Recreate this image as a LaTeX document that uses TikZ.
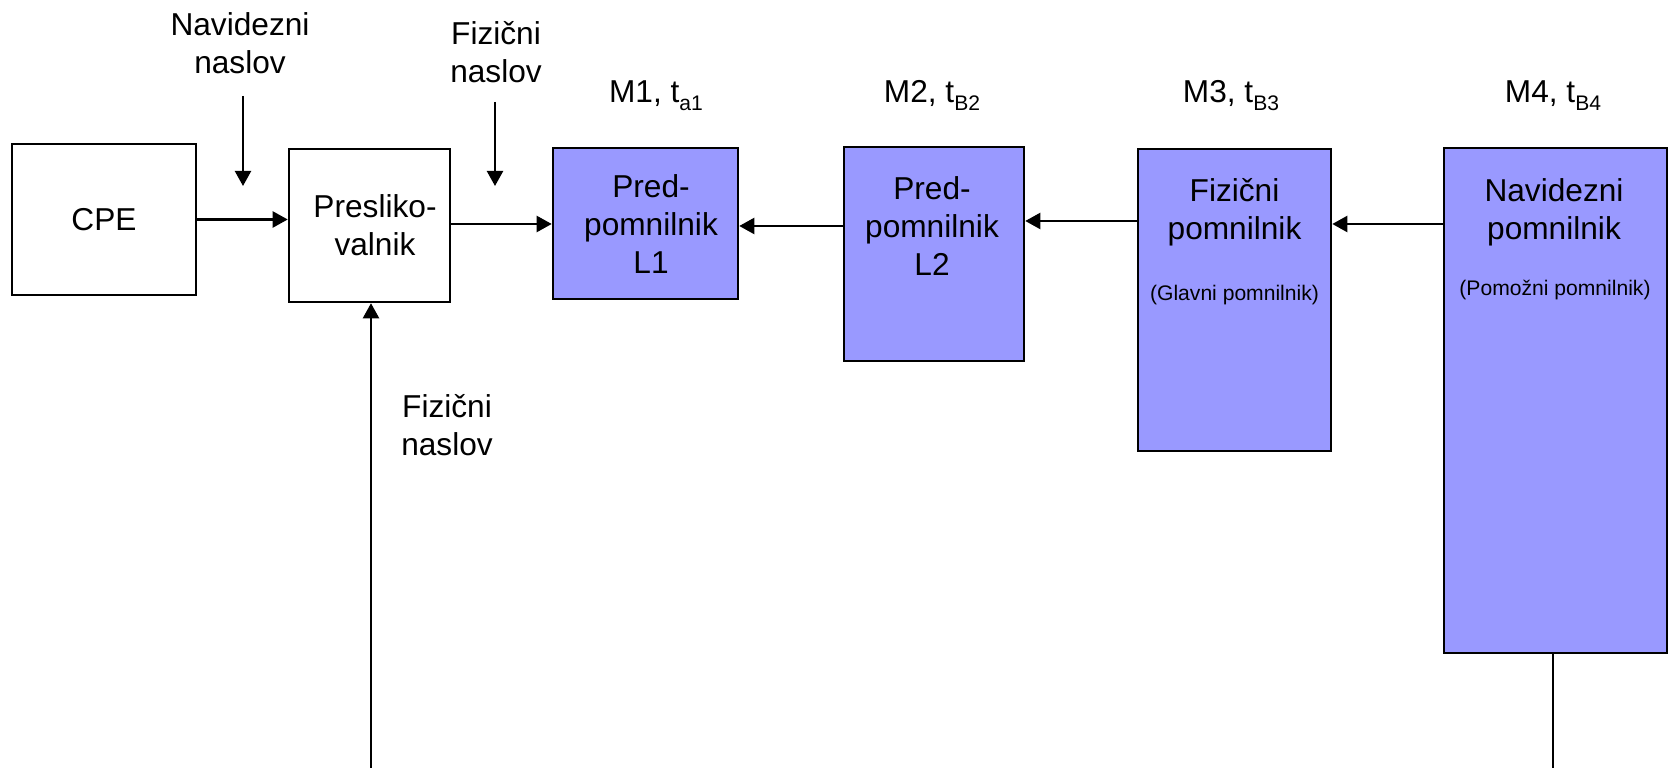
\documentclass[tikz,border=0pt]{standalone}
\usepackage{fontspec}
\setmainfont{Liberation Sans}
\usetikzlibrary{arrows.meta,positioning}

\definecolor{memblue}{HTML}{9999FF}
\newcommand{\tsub}[1]{\raisebox{-2.2pt}{\fontsize{6}{7}\selectfont #1}}

\begin{document}
\begin{tikzpicture}[x=0.01cm, y=-0.01cm,
  every node/.style={font=\fontsize{9}{10.8}\selectfont, align=center, inner sep=0pt},
  blk/.style={draw, line width=0.7pt},
  mem/.style={blk, fill=memblue},
  arr/.style={-{Triangle[length=4.3pt, width=4.6pt]}, line width=0.6pt},
  small/.style={font=\fontsize{6}{7.2}\selectfont}]
\useasboundingbox (0,0) rectangle (1671,768);

% --- CPU and address translation ---
\node[blk, minimum width=1.84cm, minimum height=1.51cm] (cpe) at (104,219.5) {CPE};
\node[blk, minimum width=1.61cm, minimum height=1.53cm] (presl) at (369.5,225.5) {};
\node (presltxt) at (375,225) {Presliko-\\valnik};

% --- Memory hierarchy M1..M4 ---
\node[mem, minimum width=1.85cm, minimum height=1.51cm] (l1) at (645.5,223.5) {};
\node[mem, minimum width=1.80cm, minimum height=2.14cm] (l2) at (934,254) {};
\node[mem, minimum width=1.93cm, minimum height=3.02cm] (l3) at (1234.5,300) {};
\node[mem, minimum width=2.23cm, minimum height=5.05cm] (l4) at (1555.5,400.5) {};

% texts inside the memory boxes
\node (l1txt) at (651,224) {Pred-\\pomnilnik\\L1};
\node (l2txt) at (932,226) {Pred-\\pomnilnik\\L2};
\node (l3txt) at (1234.5,212) {Fizični\\pomnilnik};
\node[small] (l3sub) at (1234.5,295) {(Glavni pomnilnik)};
\node (l4txt) at (1554,212) {Navidezni\\pomnilnik};
\node[small] (l4sub) at (1555,290) {(Pomožni pomnilnik)};

% level labels
\node[anchor=base] (m1) at (656,103) {M1, t\tsub{a1}};
\node[anchor=base] (m2) at (932,103) {M2, t\tsub{B2}};
\node[anchor=base] (m3) at (1231,103) {M3, t\tsub{B3}};
\node[anchor=base] (m4) at (1553,103) {M4, t\tsub{B4}};

% address labels
\node (vnlab) at (240,43) {Navidezni\\naslov};
\node (fnlab) at (496,52) {Fizični\\naslov};
\node (fnlab2) at (447,425) {Fizični\\naslov};

% free arrow ends
\coordinate (vntail) at (243,96);
\coordinate (vntip) at (243,186);
\coordinate (fntail) at (495,102);
\coordinate (fntip) at (495,186);
\coordinate (fnbot) at (371,768);
\coordinate (vmbot) at (1553,768);

% --- Connectors ---
\draw[arr] (vntail) -- (vntip);
\draw[arr] (fntail) -- (fntip);
\draw[arr] (cpe.east) -- (presl.west |- cpe.east);
\draw[arr] (presl.east |- 0,224) -- (l1.west |- 0,224);
\draw[arr] (fnbot) -- (fnbot |- presl.south);
\draw[arr] (l2.west |- 0,226) -- (l1.east |- 0,226);
\draw[arr] (l3.west |- 0,221) -- (l2.east |- 0,221);
\draw[arr] (l4.west |- 0,224) -- (l3.east |- 0,224);
\draw[line width=0.6pt] (l4.south -| vmbot) -- (vmbot);
\end{tikzpicture}
\end{document}
